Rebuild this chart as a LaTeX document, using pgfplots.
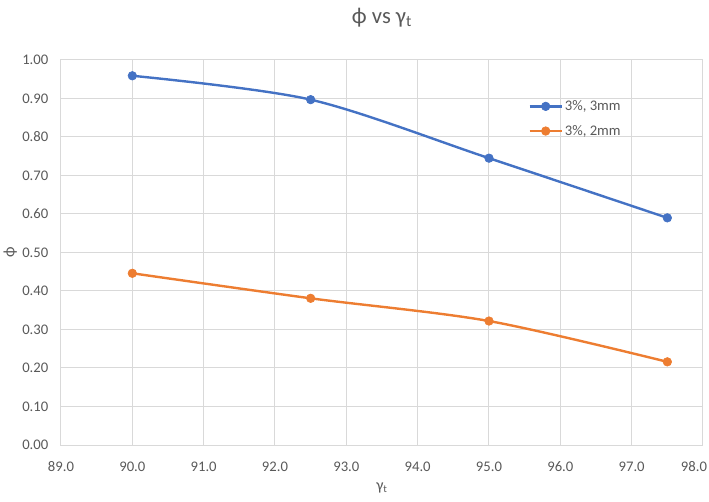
\documentclass[border=0pt]{standalone}
\usepackage{fontspec}
\setmainfont{Carlito}
\usepackage{pgfplots}
\pgfplotsset{compat=1.18}
\definecolor{sblue}{HTML}{4472C4}
\definecolor{sorange}{HTML}{ED7D31}
\definecolor{gridc}{HTML}{D9D9D9}
\definecolor{txt}{HTML}{595959}
\begin{document}
\begin{tikzpicture}
\useasboundingbox (-45.75pt,-42.75pt) rectangle (486pt,333.75pt);
\begin{axis}[
  at={(0,0)}, anchor=south west,
  scale only axis,
  width=481.5pt, height=288.75pt,
  xmin=89, xmax=98, ymin=0, ymax=1,
  xtick={89,90,...,98}, ytick={0,0.1,...,1.0},
  xticklabels={89.0,90.0,91.0,92.0,93.0,94.0,95.0,96.0,97.0,{\hbox to 0pt{\hss 98.0\kern-3pt}}},
  /pgf/number format/assume math mode=true,
  xticklabel style={yshift=-9pt},
  yticklabel style={xshift=-6pt, /pgf/number format/.cd,fixed,fixed zerofill,precision=2},
  ticklabel style={font=\fontsize{11}{13}\selectfont, text=txt},
  major tick length=0pt,
  grid=major,
  grid style={gridc, line width=0.75pt},
  axis line style={gridc, line width=0.75pt},
  title={ϕ vs γ\textsubscript{t}},
  every axis title/.style={at={(0.5,1)}, anchor=center, yshift=32pt, font=\fontsize{17}{20}\selectfont, text=txt},
  xlabel={γ\textsubscript{t}},
  ylabel={ϕ},
  every axis x label/.style={at={(0.5,0)}, anchor=center, yshift=-32pt, font=\fontsize{12}{14}\selectfont, text=txt},
  every axis y label/.style={at={(0,0.5)}, anchor=center, xshift=-38pt, rotate=90, font=\fontsize{12}{14}\selectfont, text=txt},
  legend style={draw=none, fill=none, inner sep=0pt, at={(axis cs:95.55,0.8475)}, anchor=west, font=\fontsize{11}{13}\selectfont, text=txt, row sep=6.5pt, nodes={inner sep=1.5pt}},
  legend cell align=left,
  legend image code/.code={\draw[mark repeat=2,mark phase=2] plot coordinates {(0pt,0pt) (12pt,0pt) (24pt,0pt)};},
]
\addplot[sblue, line width=1.8pt, smooth, tension=0.5, mark=*, mark size=3.2pt, mark options={fill=sblue, draw=sblue, line width=0.5pt}] coordinates {
  (90,0.959) (92.5,0.897) (95,0.745) (97.5,0.590)
};
\addlegendentry{3\%, 3mm}
\addplot[sorange, line width=1.8pt, smooth, tension=0.5, mark=*, mark size=3.2pt, mark options={fill=sorange, draw=sorange, line width=0.5pt}] coordinates {
  (90,0.446) (92.5,0.381) (95,0.322) (97.5,0.216)
};
\addlegendentry{3\%, 2mm}
\end{axis}
\end{tikzpicture}
\end{document}
